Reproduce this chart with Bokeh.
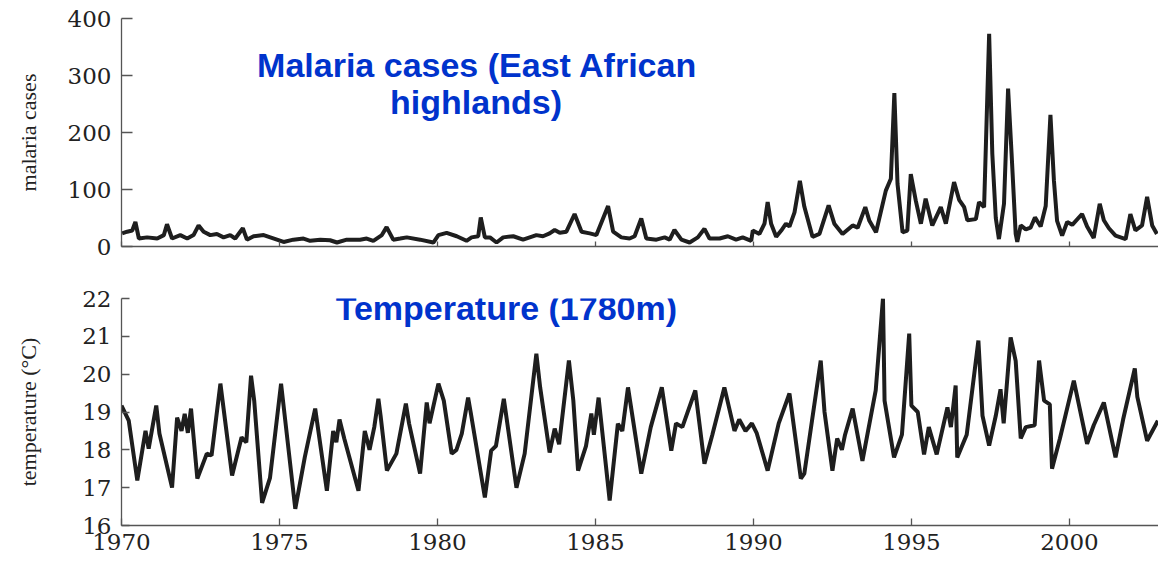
from bokeh.plotting import figure
from bokeh.layouts import column
from bokeh.models import Range1d, FixedTicker, Label
from bokeh.embed import file_html
from bokeh.resources import INLINE

# ---------------- data ----------------
malaria_year = [
    1970.02, 1970.18, 1970.34, 1970.44, 1970.55, 1970.81, 1971.13, 1971.34, 1971.44, 1971.60,
    1971.86, 1972.08, 1972.28, 1972.44, 1972.60, 1972.81, 1973.02, 1973.23, 1973.44, 1973.60,
    1973.84, 1973.97, 1974.18, 1974.50, 1974.71, 1974.92, 1975.13, 1975.44, 1975.76, 1975.97,
    1976.29, 1976.60, 1976.82, 1977.13, 1977.55, 1977.76, 1977.97, 1978.24, 1978.39, 1978.60,
    1978.82, 1979.03, 1979.45, 1979.87, 1980.03, 1980.29, 1980.61, 1980.92, 1981.08, 1981.29,
    1981.37, 1981.50, 1981.66, 1981.87, 1982.08, 1982.40, 1982.71, 1982.92, 1983.13, 1983.34,
    1983.55, 1983.71, 1983.87, 1984.08, 1984.34, 1984.56, 1984.82, 1985.03, 1985.40, 1985.56,
    1985.82, 1986.08, 1986.24, 1986.45, 1986.61, 1986.93, 1987.19, 1987.35, 1987.50, 1987.72,
    1987.98, 1988.24, 1988.45, 1988.61, 1988.93, 1989.19, 1989.45, 1989.66, 1989.93, 1989.98,
    1990.19, 1990.35, 1990.45, 1990.56, 1990.72, 1990.88, 1991.03, 1991.14, 1991.30, 1991.47,
    1991.61, 1991.87, 1992.09, 1992.38, 1992.56, 1992.82, 1993.14, 1993.30, 1993.54, 1993.67,
    1993.88, 1994.19, 1994.35, 1994.46, 1994.56, 1994.72, 1994.87, 1994.98, 1995.14, 1995.30,
    1995.45, 1995.66, 1995.93, 1996.09, 1996.35, 1996.51, 1996.67, 1996.77, 1997.04, 1997.14,
    1997.30, 1997.46, 1997.56, 1997.67, 1997.77, 1997.93, 1998.06, 1998.17, 1998.30, 1998.35,
    1998.46, 1998.62, 1998.77, 1998.91, 1999.09, 1999.25, 1999.40, 1999.51, 1999.61, 1999.77,
    1999.93, 2000.09, 2000.40, 2000.56, 2000.77, 2000.96, 2001.09, 2001.25, 2001.46, 2001.78,
    2001.93, 2002.09, 2002.30, 2002.46, 2002.62, 2002.77,
]
malaria_cases = [
    23, 26, 28, 43, 14, 16, 14, 20, 39, 14,
    20, 14, 20, 37, 26, 20, 22, 16, 20, 14,
    32, 12, 18, 20, 16, 12, 8, 12, 14, 10,
    12, 11, 7, 12, 12, 14, 10, 20, 34, 12,
    14, 16, 12, 7, 20, 24, 18, 10, 16, 18,
    51, 16, 16, 7, 16, 18, 12, 16, 20, 18,
    23, 29, 24, 26, 57, 26, 23, 20, 71, 26,
    16, 14, 18, 49, 14, 12, 16, 12, 29, 12,
    7, 16, 31, 14, 14, 18, 12, 16, 10, 28,
    22, 40, 78, 40, 17, 28, 40, 35, 60, 115,
    70, 17, 22, 72, 40, 22, 37, 33, 69, 45,
    25, 98, 119, 269, 110, 25, 28, 127, 80, 40,
    84, 37, 69, 40, 113, 82, 69, 46, 48, 78,
    69, 373, 163, 50, 13, 75, 277, 163, 22, 8,
    37, 30, 33, 51, 35, 71, 231, 116, 45, 19,
    43, 38, 57, 35, 15, 75, 46, 32, 19, 13,
    57, 28, 37, 87, 37, 22,
]

temp_year = [
    1970.00, 1970.23, 1970.50, 1970.76, 1970.86, 1971.10, 1971.20, 1971.60, 1971.76, 1971.90,
    1972.00, 1972.10, 1972.20, 1972.40, 1972.70, 1972.85, 1973.13, 1973.50, 1973.80, 1973.95,
    1974.10, 1974.20, 1974.45, 1974.70, 1975.05, 1975.50, 1975.80, 1976.13, 1976.50, 1976.70,
    1976.80, 1976.90, 1977.05, 1977.50, 1977.70, 1977.85, 1978.00, 1978.13, 1978.20, 1978.40,
    1978.70, 1979.00, 1979.10, 1979.45, 1979.66, 1979.75, 1980.03, 1980.20, 1980.45, 1980.60,
    1980.77, 1980.97, 1981.05, 1981.50, 1981.70, 1981.85, 1982.10, 1982.50, 1982.76, 1983.13,
    1983.25, 1983.55, 1983.71, 1983.85, 1984.16, 1984.30, 1984.45, 1984.70, 1984.87, 1984.95,
    1985.10, 1985.45, 1985.71, 1985.85, 1986.03, 1986.45, 1986.75, 1987.10, 1987.40, 1987.55,
    1987.75, 1988.16, 1988.45, 1988.70, 1989.08, 1989.40, 1989.55, 1989.75, 1989.95, 1990.10,
    1990.45, 1990.80, 1991.14, 1991.50, 1991.61, 1992.13, 1992.25, 1992.50, 1992.65, 1992.80,
    1992.90, 1993.14, 1993.45, 1993.87, 1994.10, 1994.15, 1994.45, 1994.70, 1994.93, 1995.00,
    1995.20, 1995.40, 1995.55, 1995.80, 1996.14, 1996.25, 1996.40, 1996.45, 1996.75, 1997.12,
    1997.25, 1997.46, 1997.67, 1997.82, 1997.92, 1998.14, 1998.30, 1998.46, 1998.62, 1998.90,
    1999.04, 1999.20, 1999.38, 1999.45, 1999.70, 2000.14, 2000.56, 2000.77, 2001.09, 2001.46,
    2001.70, 2002.07, 2002.15, 2002.46, 2002.80,
]
temp_c = [
    19.17, 18.77, 17.19, 18.50, 18.03, 19.17, 18.43, 17.00, 18.85, 18.50,
    18.95, 18.45, 19.09, 17.24, 17.90, 17.85, 19.75, 17.32, 18.33, 18.20,
    19.96, 19.30, 16.60, 17.26, 19.75, 16.44, 17.80, 19.09, 16.92, 18.50,
    18.20, 18.80, 18.30, 16.92, 18.50, 18.00, 18.60, 19.35, 18.90, 17.45,
    17.90, 19.22, 18.70, 17.37, 19.25, 18.70, 19.75, 19.30, 17.90, 18.00,
    18.43, 19.38, 19.00, 16.74, 17.98, 18.10, 19.35, 17.00, 17.90, 20.54,
    19.65, 17.93, 18.56, 18.15, 20.36, 19.30, 17.45, 18.10, 18.96, 18.40,
    19.38, 16.66, 18.69, 18.50, 19.65, 17.37, 18.60, 19.65, 17.98, 18.70,
    18.60, 19.57, 17.63, 18.40, 19.65, 18.50, 18.80, 18.50, 18.70, 18.45,
    17.45, 18.70, 19.49, 17.24, 17.37, 20.36, 19.00, 17.45, 18.30, 18.00,
    18.40, 19.09, 17.71, 19.57, 22.00, 19.30, 17.80, 18.40, 21.07, 19.17,
    19.00, 17.88, 18.60, 17.88, 19.12, 18.60, 19.70, 17.80, 18.40, 20.89,
    18.90, 18.11, 18.90, 19.60, 18.70, 20.97, 20.35, 18.30, 18.60, 18.65,
    20.36, 19.30, 19.20, 17.50, 18.30, 19.83, 18.16, 18.65, 19.25, 17.80,
    18.80, 20.15, 19.40, 18.24, 18.77,
]

x_ticks = [1970, 1975, 1980, 1985, 1990, 1995, 2000]
malaria_ticks = [0, 100, 200, 300, 400]
temp_ticks = [16, 17, 18, 19, 20, 21, 22]

malaria_title = ["Malaria cases (East African", "highlands)"]
temp_title = "Temperature (1780m)"

# ---------------- styling helpers ----------------
LINE_COLOR = "#1e1e1e"
AXIS_COLOR = "#555555"
TICK_FONT = "DejaVu Serif"
LABEL_FONT = "Liberation Serif"
TITLE_COLOR = "#0033CC"

X_START, X_END = 1970, 2002.82


def style_axes(p):
    p.outline_line_color = None
    p.xgrid.visible = False
    p.ygrid.visible = False
    p.background_fill_color = "white"
    p.border_fill_color = "white"
    for ax in (p.xaxis[0], p.yaxis[0]):
        ax.axis_line_color = AXIS_COLOR
        ax.axis_line_width = 1.3
        ax.major_tick_line_color = AXIS_COLOR
        ax.major_tick_line_width = 1.3
        ax.minor_tick_line_color = None
        ax.major_tick_out = 0
        ax.major_label_text_font = TICK_FONT
        ax.major_label_text_font_size = "23px"
        ax.major_label_text_color = "#222222"
        ax.axis_label_text_font = LABEL_FONT
        ax.axis_label_text_font_style = "normal"
        ax.axis_label_text_font_size = "22px"
        ax.axis_label_text_color = "#222222"


# ---------------- top: malaria ----------------
p1 = figure(frame_width=1037, frame_height=228,
            x_range=Range1d(X_START, X_END), y_range=Range1d(0, 400),
            output_backend="svg", toolbar_location=None,
            min_border_left=121, min_border_right=0,
            min_border_top=18, min_border_bottom=24)
p1.line(malaria_year, malaria_cases, line_color=LINE_COLOR, line_width=4)
style_axes(p1)
p1.xaxis.ticker = FixedTicker(ticks=x_ticks)
p1.xaxis.major_tick_in = 5
p1.xaxis.major_label_text_font_size = "2px"
p1.xaxis.major_label_text_alpha = 0
p1.xaxis.major_label_standoff = 0
p1.yaxis.ticker = FixedTicker(ticks=malaria_ticks)
p1.yaxis.major_tick_in = 11
p1.yaxis.major_label_standoff = 10
p1.yaxis.axis_label = "malaria cases"
p1.yaxis.axis_label_standoff = 24

p1.add_layout(Label(x=1981.26, y=319, text=malaria_title[0], text_align="center",
                    text_baseline="middle", text_font="Liberation Sans",
                    text_font_style="bold", text_font_size="34px", text_color=TITLE_COLOR))
p1.add_layout(Label(x=1981.22, y=253, text=malaria_title[1], text_align="center",
                    text_baseline="middle", text_font="Liberation Sans",
                    text_font_style="bold", text_font_size="34px", text_color=TITLE_COLOR))

# ---------------- bottom: temperature ----------------
p2 = figure(frame_width=1037, frame_height=227,
            x_range=Range1d(X_START, X_END), y_range=Range1d(16, 22),
            output_backend="svg", toolbar_location=None,
            min_border_left=121, min_border_right=0,
            min_border_top=28, min_border_bottom=40)
p2.line(temp_year, temp_c, line_color=LINE_COLOR, line_width=4)
style_axes(p2)
p2.xaxis.ticker = FixedTicker(ticks=x_ticks)
p2.xaxis.major_tick_in = 7
p2.xaxis.major_label_standoff = 8
p2.yaxis.ticker = FixedTicker(ticks=temp_ticks)
p2.yaxis.major_tick_in = 8
p2.yaxis.major_label_standoff = 10
p2.yaxis.axis_label = "temperature (°C)"
p2.yaxis.axis_label_standoff = 38

p2.add_layout(Label(x=1982.18, y=21.74, text=temp_title, text_align="center",
                    text_baseline="middle", text_font="Liberation Sans",
                    text_font_style="bold", text_font_size="34px", text_color=TITLE_COLOR))

layout = column(p1, p2, spacing=0)

open("out.html", "w").write(file_html(layout, INLINE))
